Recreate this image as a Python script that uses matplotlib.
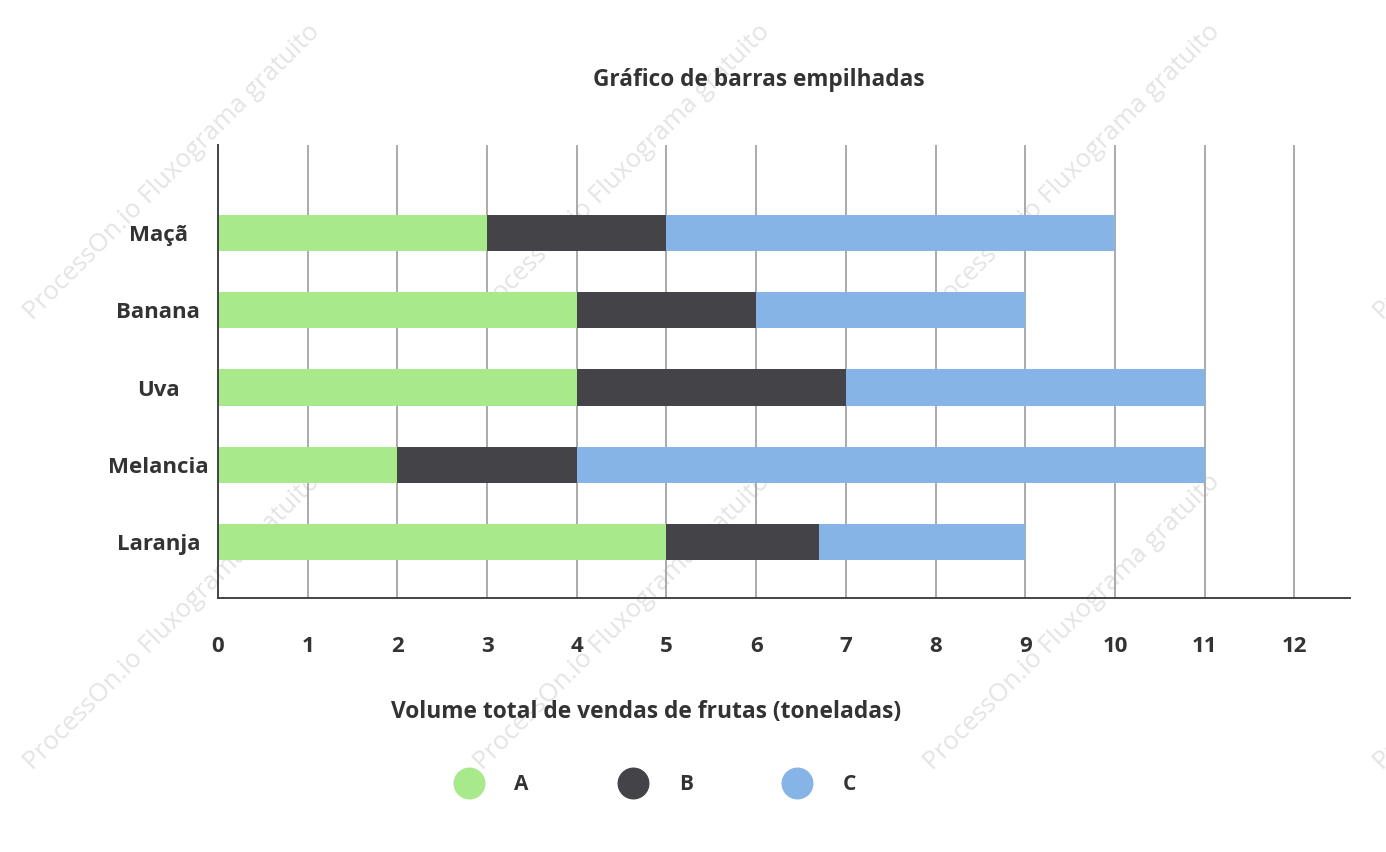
import numpy as np
import matplotlib.pyplot as plt
from matplotlib.lines import Line2D

# dados
frutas = ['Maçã', 'Banana', 'Uva', 'Melancia', 'Laranja']
serie_a = [3, 4, 4, 2, 5]
serie_b = [2, 2, 3, 2, 1.7]
serie_c = [5, 3, 4, 7, 2.3]
nomes = ['A', 'B', 'C']
cores = ['#a8e98c', '#444448', '#87b4e6']
xticks = list(range(0, 13))

cor_txt = '#333333'
plt.rcParams['font.family'] = ['Open Sans', 'DejaVu Sans']

fig = plt.figure(figsize=(13.86, 8.52), dpi=100)
ax = fig.add_axes([218/1386, 1-598/852, (1350-218)/1386, (598-145)/852])
ax.patch.set_visible(False)

# marca d'agua
for cx in [172, 622, 1072, 1522]:
    for cy in [172, 622]:
        fig.text(cx/1386, 1-cy/852, 'ProcessOn.io Fluxograma gratuito', rotation=45,
                 ha='center', va='center', fontsize=18.5, color='#e4e4e4', zorder=-5,
                 rotation_mode='anchor')

y = np.arange(len(frutas))[::-1]
a = np.array(serie_a)
b = np.array(serie_b)
c = np.array(serie_c)
h = 0.47
ax.barh(y, a, height=h, color=cores[0], zorder=3)
ax.barh(y, b, left=a, height=h, color=cores[1], zorder=3)
ax.barh(y, c, left=a+b, height=h, color=cores[2], zorder=3)

ax.set_xlim(0, 12.62)
ax.set_ylim(-0.725, 5.14)
ax.set_xticks(xticks)
ax.set_xticklabels([str(t) for t in xticks], fontsize=16, fontweight='bold', color=cor_txt)
ax.set_yticks(y)
ax.set_yticklabels(frutas, fontsize=16, fontweight='bold', color=cor_txt, ha='center')
ax.tick_params(axis='x', length=0, pad=27)
ax.tick_params(axis='y', length=0, pad=43)
ax.grid(axis='x', color='#aaaaaa', lw=1.4, zorder=1)
for s in ['top', 'right']:
    ax.spines[s].set_visible(False)
for s in ['left', 'bottom']:
    ax.spines[s].set_color('#444444')
    ax.spines[s].set_linewidth(1.4)
    ax.spines[s].set_zorder(4)

fig.text(759/1386, 1-80/852, 'Gráfico de barras empilhadas', ha='center', va='center',
         fontsize=16.3, fontweight='bold', color=cor_txt)
fig.text(646/1386, 1-712/852, 'Volume total de vendas de frutas (toneladas)', ha='center',
         va='center', fontsize=16.4, fontweight='bold', color=cor_txt)

# legenda
handles = [Line2D([], [], ls='none', marker='o', ms=22, mfc=cor, mec=cor) for cor in cores]
leg = fig.legend(handles, nomes, loc='center', bbox_to_anchor=(652/1386, 1-785/852),
                 ncol=3, frameon=False, handletextpad=1.2, columnspacing=4.0,
                 prop={'size': 15, 'weight': 'bold'})
for t in leg.get_texts():
    t.set_color(cor_txt)

fig.savefig('out.png', dpi=100, facecolor='white')
